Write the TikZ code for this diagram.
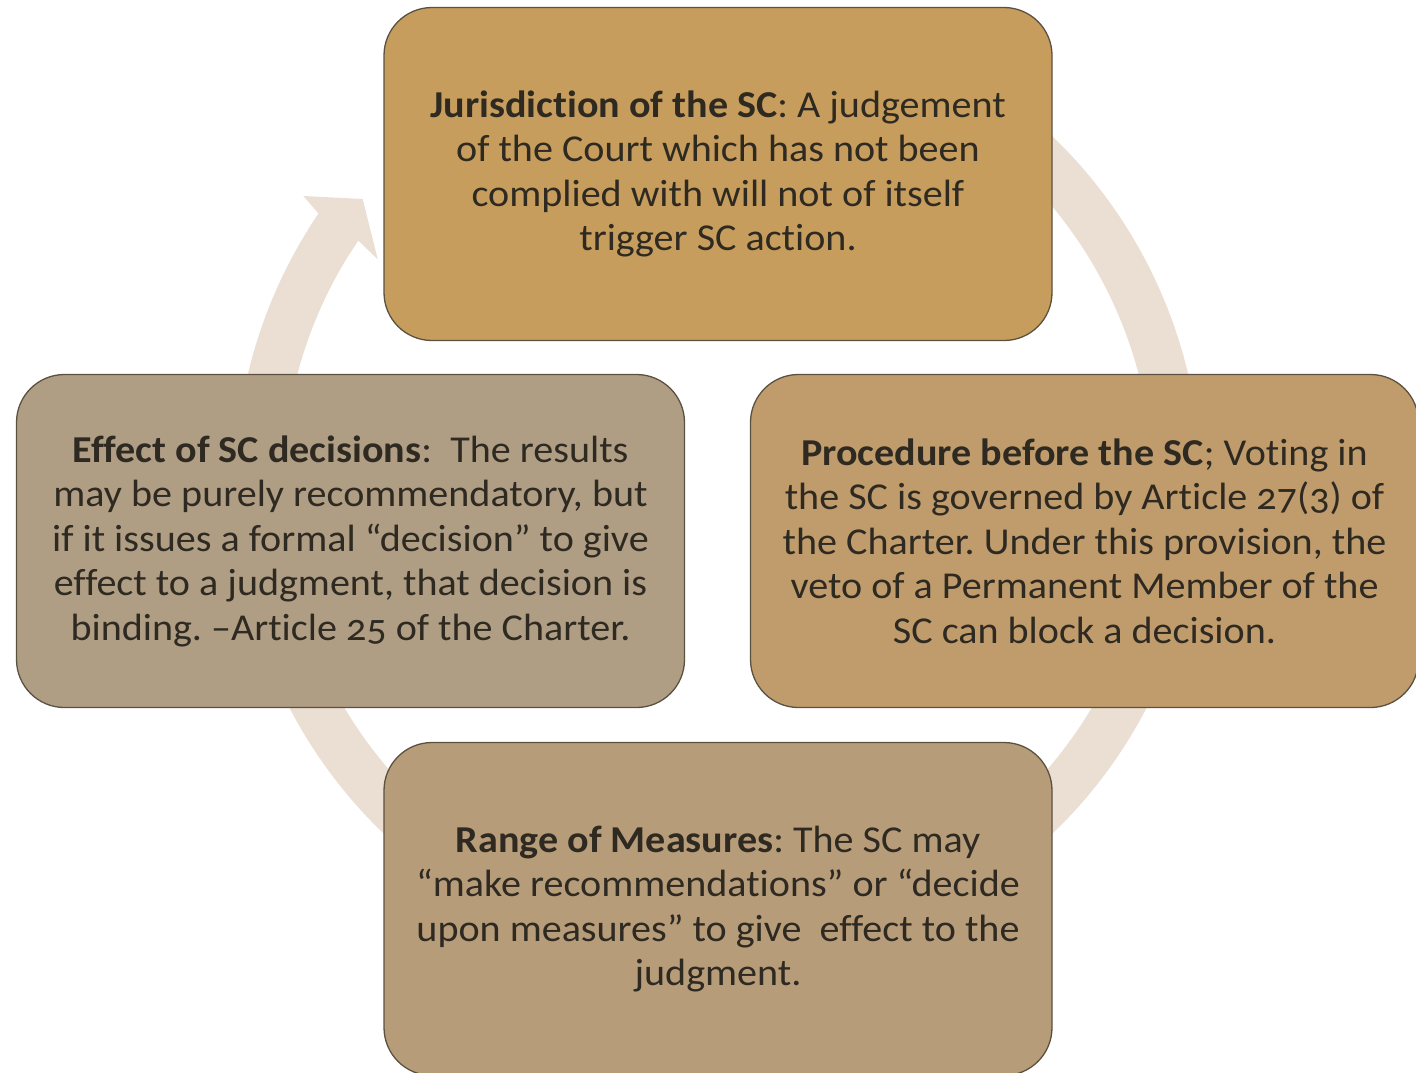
\documentclass[tikz,border=0pt]{standalone}
\usepackage{fontspec}
\setmainfont[Numbers=OldStyle,FakeStretch=1.055,Ligatures=NoCommon]{Carlito}
\definecolor{ringc}{HTML}{EADFD2}
\definecolor{boxline}{HTML}{5B5141}
\definecolor{txt}{HTML}{2E2A22}
\definecolor{ctop}{HTML}{C69D5C}
\definecolor{cleft}{HTML}{B09E84}
\definecolor{cright}{HTML}{C09C6C}
\definecolor{cbot}{HTML}{B79C79}
\frenchspacing
\begin{document}
\begin{tikzpicture}[x=1pt,y=-1pt,
  box/.style={draw=boxline, line width=1.3pt, rounded corners=48pt,
    minimum width=668pt, minimum height=333pt, align=center, text=txt,
    font=\fontsize{38}{44.5}\selectfont, inner sep=0pt}]
\useasboundingbox (0,0) rectangle (1416,1072);
\clip (0,0) rectangle (1416,1072);
% ring arrow
\draw[ringc, line width=48pt] (718,485) ++(-70:459) arc[start angle=-70, end angle=214.2, radius=459];
\fill[ringc] (308.4,229.0) -- (318.6,213.6) -- (303.3,196) -- (362.7,199) -- (377.7,259.3) -- (358.2,240.5) -- (349.1,254.5) -- cycle;
% boxes
\node[box, fill=ctop] (top) at (718,174) {\textbf{Jurisdiction of the SC}: A judgement\\of the Court which has not been\\complied with will not of itself\\trigger SC action.};
\node[box, fill=cleft] (left) at (350.5,541) {\textbf{Effect of SC decisions}:\ \ The results\\may be purely recommendatory, but\\if it issues a formal “decision” to give\\effect to a judgment, that decision is\\binding. –Article 25 of the Charter.};
\node[box, fill=cright] (right) at (1084.5,541) {\textbf{Procedure before the SC}; Voting in\\the SC is governed by Article 27(3) of\\the Charter. Under this provision, the\\veto of a Permanent Member of the\\SC can block a decision.};
\node[box, fill=cbot] (bottom) at (718,909) {\textbf{Range of Measures}: The SC may\\“make recommendations” or “decide\\upon measures” to give\ \ effect to the\\judgment.};
\end{tikzpicture}
\end{document}
